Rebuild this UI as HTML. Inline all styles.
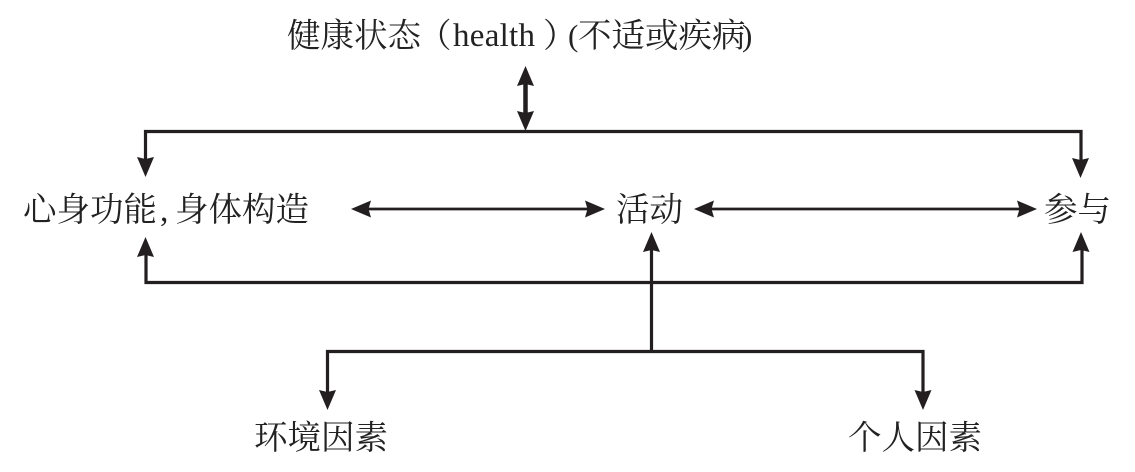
<!DOCTYPE html>
<html>
<head>
<meta charset="utf-8">
<style>
html,body{margin:0;padding:0;background:#fff;width:1135px;height:472px;overflow:hidden}
svg{display:block}
text{font-family:"Liberation Serif","Noto Serif CJK SC",serif;font-size:33.5px;fill:#222}
</style>
</head>
<body>
<svg width="1135" height="472" viewBox="0 0 1135 472" xmlns="http://www.w3.org/2000/svg">
<g fill="none" stroke="#231f20" stroke-width="3.2">
<path d="M145.500 165V131.500H1081V165"/>
<path d="M146 245V282.500H1082V245"/>
<path d="M525.500 80V118" stroke-width="4.500"/>
<path d="M651.500 245V351"/>
<path d="M923 397V351.500H327.500V397"/>
<path d="M362 209H595" stroke-width="2.800"/>
<path d="M705 209H1027" stroke-width="2.800"/>
</g>
<g fill="#231f20">
<path d="M525.500 66l8.500 20-8.500-2-8.500 2z"/>
<path d="M525.500 131l8.500-20-8.500 2-8.500-2z"/>
<path d="M145.500 177l-8.500-20 8.500 2 8.500-2z"/>
<path d="M1080.500 178l-8.500-20 8.500 2 8.500-2z"/>
<path d="M145.500 237l-8.500 20 8.500-2 8.500 2z"/>
<path d="M1081 232l-8.500 20 8.500-2 8.500 2z"/>
<path d="M651.500 232l-8.500 20 8.500-2 8.500 2z"/>
<path d="M327.500 410l-8.500-20 8.500 2 8.500-2z"/>
<path d="M923 410l-8.500-20 8.500 2 8.500-2z"/>
<path d="M351 209l20-8.500-2.500 8.500 2.500 8.500z"/>
<path d="M605 209l-20-8.500 2.500 8.500-2.500 8.500z"/>
<path d="M694 209l20-8.500-2.500 8.500 2.500 8.500z"/>
<path d="M1037 209l-20-8.500 2.500 8.500-2.500 8.500z"/>
</g>
<text x="287" y="47">健康状态</text>
<text x="418" y="47">（</text>
<text x="453" y="46" textLength="82" lengthAdjust="spacing" style="font-size:33px">health</text>
<text x="543" y="47">）</text>
<text x="568" y="46" style="font-size:31px">(</text>
<text x="578" y="47">不适或疾病</text>
<text x="742" y="46" style="font-size:31px">)</text>
<text x="23" y="221">心身功能</text>
<text x="160" y="221">,</text>
<text x="175" y="221">身体构造</text>
<text x="616" y="221">活动</text>
<text x="1044" y="221">参与</text>
<text x="254" y="449">环境因素</text>
<text x="848" y="449">个人因素</text>
</svg>
</body>
</html>
